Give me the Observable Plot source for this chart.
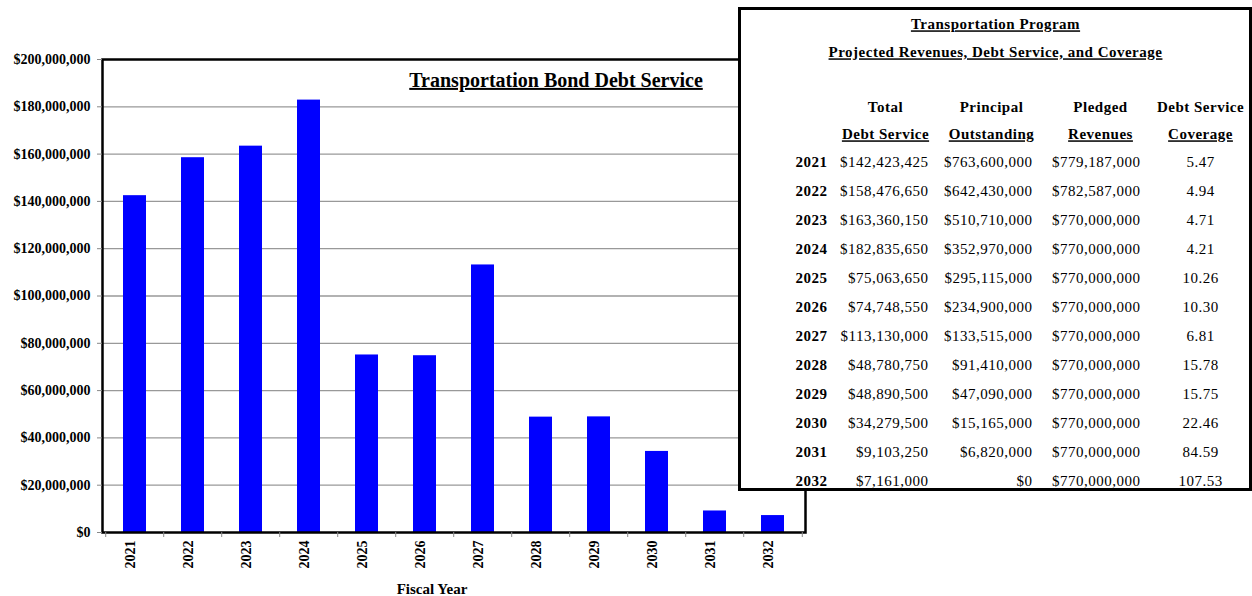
<!DOCTYPE html>
<html><head><meta charset="utf-8">
<script src="https://cdn.jsdelivr.net/npm/d3@7"></script>
<script src="https://cdn.jsdelivr.net/npm/@observablehq/plot@0.6"></script>
<style>
body{margin:0;background:#fff;}
#wrap{position:relative;width:1252px;height:596px;overflow:hidden;font-family:"Liberation Serif",serif;}
#chart{position:absolute;left:0;top:0;}
#table{position:absolute;left:738px;top:7px;width:508px;height:478px;border:3px solid #000;background:#fff;}
</style></head><body><div id="wrap"><div id="chart"></div><div id="table"></div></div>
<script>
const years = ["2021","2022","2023","2024","2025","2026","2027","2028","2029","2030","2031","2032"];
const totalDebtService = [142423425,158476650,163360150,182835650,75063650,74748550,113130000,48780750,48890500,34279500,9103250,7161000];
const principalOutstanding = [763600000,642430000,510710000,352970000,295115000,234900000,133515000,91410000,47090000,15165000,6820000,0];
const pledgedRevenues = [779187000,782587000,770000000,770000000,770000000,770000000,770000000,770000000,770000000,770000000,770000000,770000000];
const coverage = ["5.47","4.94","4.71","4.21","10.26","10.30","6.81","15.78","15.75","22.46","84.59","107.53"];
const yTicks = [0,20e6,40e6,60e6,80e6,100e6,120e6,140e6,160e6,180e6,200e6];
const gridTicks = [20e6,40e6,60e6,80e6,100e6,120e6,140e6,160e6,180e6];
const chartTitle = "Transportation Bond Debt Service";
const xLabel = "Fiscal Year";
const tableTitles = ["Transportation Program","Projected Revenues, Debt Service, and Coverage"];
const headerLine1 = ["Total","Principal","Pledged","Debt Service"];
const headerLine2 = ["Debt Service","Outstanding","Revenues","Coverage"];

const serif = '"Liberation Serif", "Times New Roman", serif';
const money = d3.format("$,.0f");

// ---- chart ----
const data = years.map((y,i)=>({year:y,total:totalDebtService[i]}));
const W=820,H=596,mL=102,mR=15,mT=59,mB=64;
const step=(W-mL-mR)/years.length;
const chart = Plot.plot({
  width:W,height:H,marginLeft:mL,marginRight:mR,marginTop:mT,marginBottom:mB,
  style:{fontFamily:serif,background:"transparent",color:"#000"},
  x:{type:"band",domain:years,paddingInner:0.6,paddingOuter:0.3},
  y:{domain:[0,200e6]},
  marks:[
    Plot.gridY(gridTicks,{stroke:"#999",strokeOpacity:1,strokeWidth:1.3}),
    Plot.barY(data,{x:"year",y:"total",fill:"#0000ff"}),
    Plot.frame({stroke:"#000",strokeWidth:2.5}),
    Plot.axisY(yTicks,{tickSize:5,tickPadding:7,stroke:"#888",fill:"#000",tickFormat:money,fontWeight:"bold",fontSize:14,label:null}),
    Plot.axisX(years,{tickSize:5,fill:"none",stroke:"#888",dx:-step/2,label:null}),
    Plot.axisX([years[years.length-1]],{tickSize:5,fill:"none",stroke:"#888",dx:step/2,label:null}),
    Plot.text(years,{x:d=>d,text:d=>d,frameAnchor:"bottom",dy:22,rotate:-90,fontWeight:"bold",fontSize:14,fill:"#000"}),
    Plot.text([chartTitle],{text:d=>d,frameAnchor:"top",lineAnchor:"middle",dx:102,dy:21,fontSize:20,fontWeight:"bold",fill:"#000"}),
    Plot.text([xLabel],{text:d=>d,frameAnchor:"bottom",lineAnchor:"middle",dx:-22,dy:57,fontSize:15,fontWeight:"bold",fill:"#000"})
  ]
});
document.getElementById("chart").appendChild(chart);

// ---- table ----
const rows = years.map((y,i)=>({year:y,total:money(totalDebtService[i]),principal:money(principalOutstanding[i]),pledged:money(pledgedRevenues[i]),coverage:coverage[i]}));
const fs=15, ls="0.5px";
const colText=(field,dx,anchor,extra={})=>Plot.text(rows,{y:"year",text:field,frameAnchor:"left",dx,textAnchor:anchor,fontSize:fs,fill:"#000",...extra});
const hdrCx=[144,250,359,459];
const table = Plot.plot({
  width:508,height:478,margin:0,
  style:{fontFamily:serif,background:"#fff",letterSpacing:ls,color:"#000"},
  y:{type:"band",domain:years,range:[136.5,484.5],padding:0,axis:null},
  marks:[
    colText("year",86,"end",{fontWeight:"bold"}),
    colText("total",187,"end"),
    colText("principal",291,"end"),
    colText("pledged",399,"end"),
    colText("coverage",459,"middle"),
    Plot.text([tableTitles[0]],{text:d=>d,frameAnchor:"top",lineAnchor:"middle",dy:14,fontSize:fs,fontWeight:"bold",fill:"#000"}),
    Plot.text([tableTitles[1]],{text:d=>d,frameAnchor:"top",lineAnchor:"middle",dy:42,fontSize:fs,fontWeight:"bold",fill:"#000"}),
    ...headerLine1.map((h,i)=>Plot.text([h],{text:d=>d,frameAnchor:"top-left",lineAnchor:"middle",dx:hdrCx[i],dy:97,textAnchor:"middle",fontSize:fs,fontWeight:"bold",fill:"#000"})),
    ...headerLine2.map((h,i)=>Plot.text([h],{text:d=>d,frameAnchor:"top-left",lineAnchor:"middle",dx:hdrCx[i],dy:124,textAnchor:"middle",fontSize:fs,fontWeight:"bold",fill:"#000"}))
  ]
});
document.getElementById("table").appendChild(table);

// underline titles and second header line
const underlined = new Set([chartTitle, ...tableTitles, ...headerLine2]);
d3.selectAll("#wrap svg text").each(function(){
  if (underlined.has(this.textContent)) this.style.textDecoration = "underline";
});
// first-line "Debt Service" header stays plain
d3.selectAll("#table svg text").each(function(){
  if (this.textContent === "Debt Service" && +d3.select(this.parentNode).attr("transform")?.match(/,\s*([\d.]+)/)?.[1] < 110) this.style.textDecoration = "none";
});
</script></body></html>
